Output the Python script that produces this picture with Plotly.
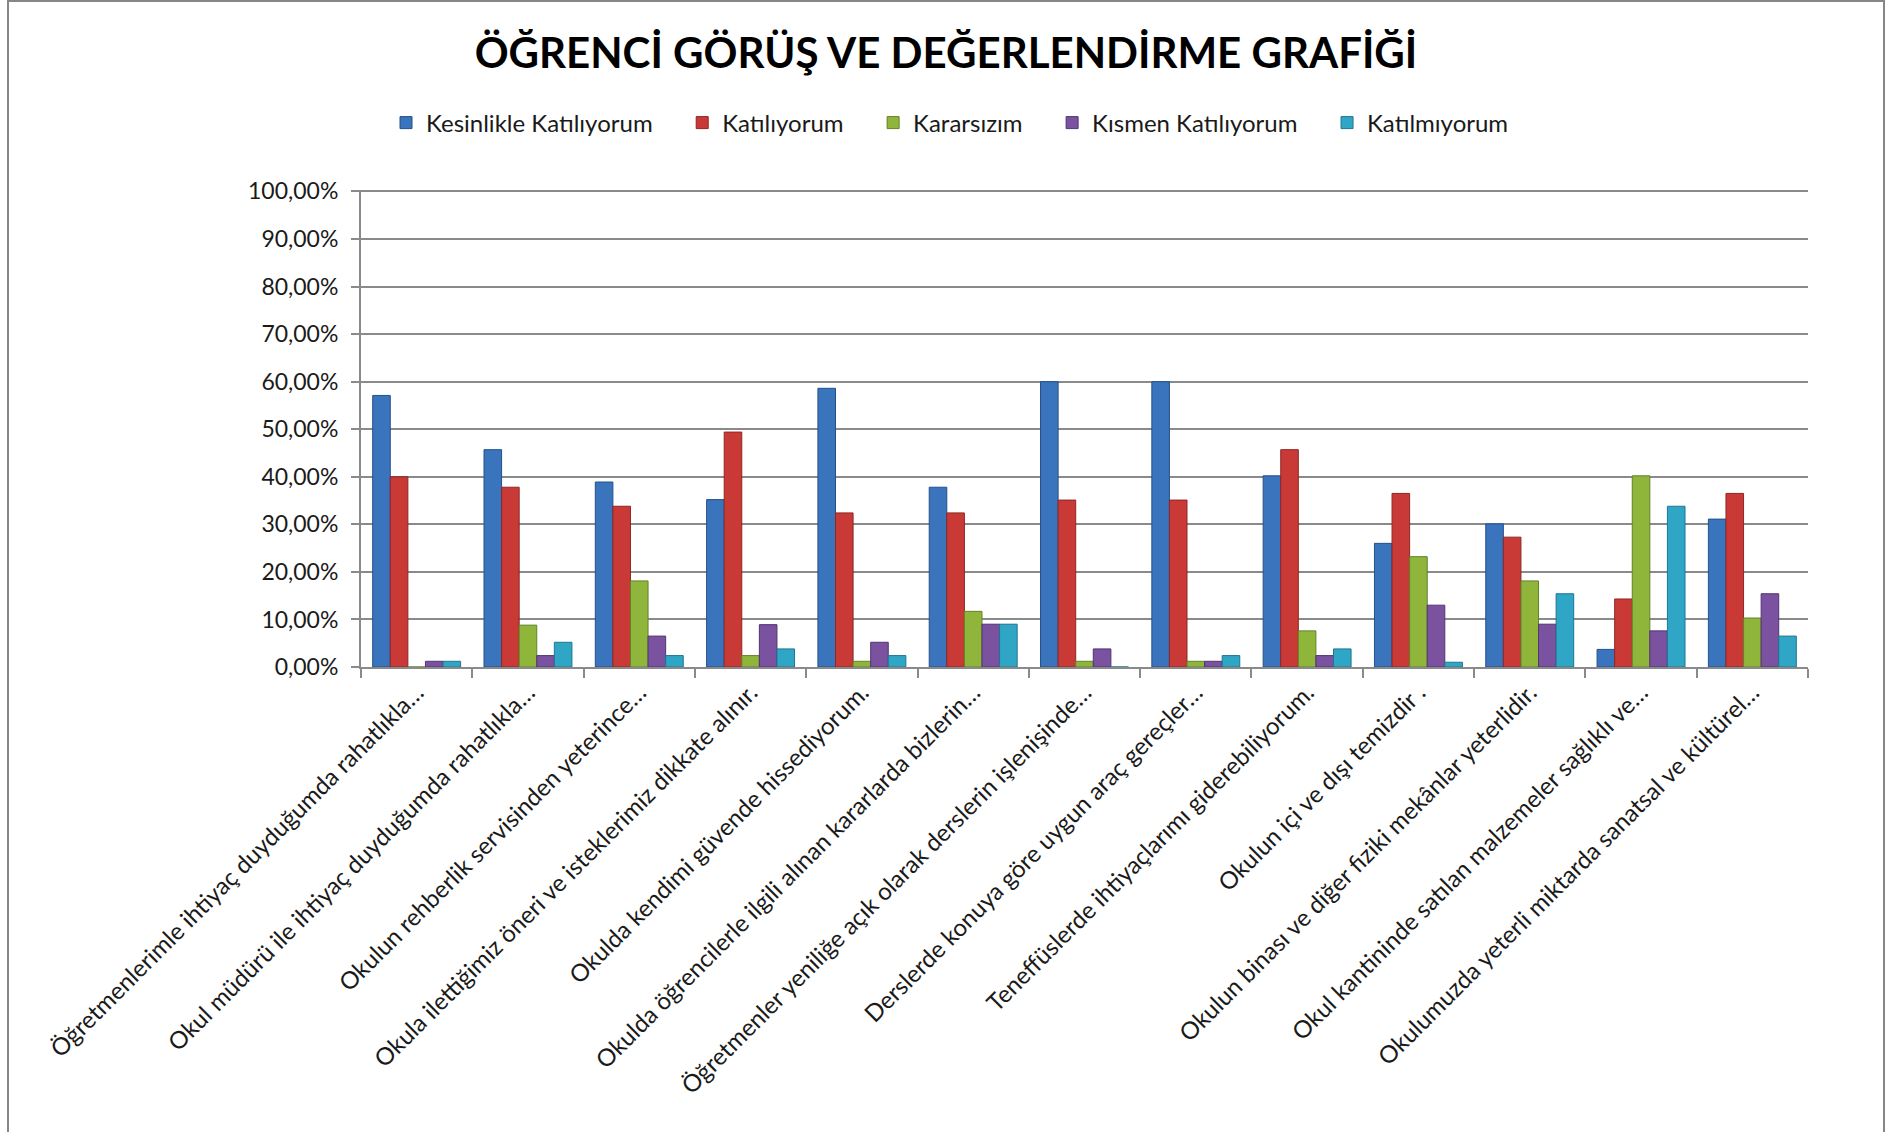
import plotly.graph_objects as go

categories = [
    "Öğretmenlerimle ihtiyaç duyduğumda rahatlıkla…",
    "Okul müdürü ile ihtiyaç duyduğumda rahatlıkla…",
    "Okulun rehberlik servisinden yeterince…",
    "Okula ilettiğimiz öneri ve isteklerimiz dikkate alınır.",
    "Okulda kendimi güvende hissediyorum.",
    "Okulda öğrencilerle ilgili alınan kararlarda bizlerin…",
    "Öğretmenler yeniliğe açık olarak derslerin işlenişinde…",
    "Derslerde konuya göre uygun araç gereçler…",
    "Teneffüslerde ihtiyaçlarımı giderebiliyorum.",
    "Okulun içi ve dışı temizdir .",
    "Okulun binası ve diğer fiziki mekânlar yeterlidir.",
    "Okul kantininde satılan malzemeler sağlıklı ve…",
    "Okulumuzda yeterli miktarda sanatsal ve kültürel…",
]

series_names = ["Kesinlikle Katılıyorum", "Katılıyorum", "Kararsızım",
                "Kısmen Katılıyorum", "Katılmıyorum"]

# percent values
kesinlikle = [57.1, 45.7, 38.9, 35.2, 58.6, 37.8, 60.0, 60.0, 40.2, 26.0, 30.1, 3.7, 31.1]
katiliyorum = [40.0, 37.8, 33.8, 49.4, 32.4, 32.4, 35.1, 35.1, 45.7, 36.5, 27.3, 14.3, 36.5]
kararsizim = [0.0, 8.8, 18.1, 2.4, 1.2, 11.7, 1.2, 1.2, 7.6, 23.2, 18.1, 40.2, 10.3]
kismen = [1.2, 2.4, 6.5, 8.9, 5.2, 9.0, 3.8, 1.2, 2.4, 13.0, 9.0, 7.6, 15.4]
katilmiyorum = [1.2, 5.2, 2.4, 3.8, 2.4, 9.0, 0.0, 2.4, 3.8, 1.0, 15.4, 33.8, 6.5]

y_ticks = [0, 10, 20, 30, 40, 50, 60, 70, 80, 90, 100]

series_values = [kesinlikle, katiliyorum, kararsizim, kismen, katilmiyorum]
colors = ["#3A74BD", "#C93A37", "#8FB53B", "#7A529F", "#2FA6C6"]
edge_colors = ["#24518A", "#8E2624", "#62822A", "#513570", "#1F7590"]

FONT = "Lato, 'Open Sans', sans-serif"
PAD = "\u00a0" * 4  # spacing after legend entries

fig = go.Figure()
for name, vals, c, ec in zip(series_names, series_values, colors, edge_colors):
    fig.add_trace(go.Bar(
        x=categories, y=[v / 100 for v in vals], name=name + PAD,
        marker=dict(color=c, line=dict(color=ec, width=1)),
    ))

W, H = 1885, 1132
L, R, T, B = 361, 77, 190, 465
pw, ph = W - L - R, H - T - B

def px(x):
    return (x - L) / pw

def py(y):
    return (H - B - y) / ph

fig.update_layout(
    width=W, height=H,
    margin=dict(l=L, r=R, t=T, b=B, autoexpand=False),
    paper_bgcolor="white", plot_bgcolor="white",
    separators=",.",
    barmode="group", bargap=0.21, bargroupgap=0.0,
    font=dict(family=FONT, size=22, color="#1a1a1a"),
    title=dict(
        text="<b>ÖĞRENCİ GÖRÜŞ VE DEĞERLENDİRME GRAFİĞİ</b>",
        font=dict(family=FONT, size=42, color="black"),
        xref="paper", x=px(946), xanchor="center",
        yref="container", y=1 - 53 / H, yanchor="middle",
    ),
    legend=dict(
        orientation="h", xref="paper", x=px(962), xanchor="center",
        yref="paper", y=py(123), yanchor="middle",
        font=dict(family=FONT, size=24, color="#1a1a1a"),
        itemwidth=30, tracegroupgap=0,
    ),
    showlegend=True,
    xaxis=dict(
        tickangle=-45, ticks="outside", tickson="boundaries", ticklen=9,
        tickcolor="#8a8a8a", tickwidth=2,
        showline=True, linecolor="#8a8a8a", linewidth=2,
        showgrid=False, tickfont=dict(family=FONT, size=24, color="#1a1a1a"),
        automargin=False,
    ),
    yaxis=dict(
        range=[0, 1.003], tickvals=[t / 100 for t in y_ticks], tickformat=".2%",
        ticks="outside", ticklen=8, tickcolor="#8a8a8a", tickwidth=2,
        ticklabelstandoff=8,
        showline=True, linecolor="#8a8a8a", linewidth=2,
        showgrid=True, gridcolor="#8a8a8a", gridwidth=2,
        zeroline=False, tickfont=dict(family=FONT, size=23, color="#1a1a1a"),
        automargin=False,
    ),
    shapes=[dict(
        type="rect", xref="paper", yref="paper",
        x0=px(8), x1=px(1884), y0=py(1140), y1=py(1),
        line=dict(color="#868686", width=2), fillcolor="rgba(0,0,0,0)",
        layer="below",
    )],
)

fig.write_html("out.html", config={"displayModeBar": False},
               post_script="document.body.style.margin='0';")
